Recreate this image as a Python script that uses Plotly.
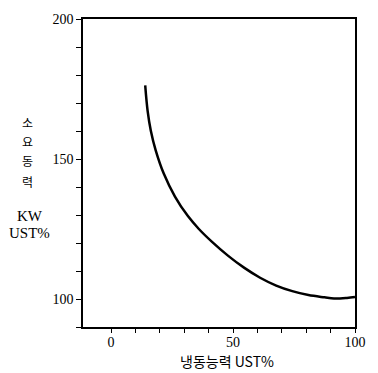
import plotly.graph_objects as go

# Curve (refrigeration capacity UST% vs power KW UST%)
capacity = [14.0, 15.0, 16.3, 18.3, 21.6, 26.2, 31.5, 36.0, 41.4, 47.9, 54.5, 61.1, 67.7, 74.3, 80.9, 87.5, 91.4, 96.7, 100.0]
power = [176.3, 167.1, 160.1, 153.1, 144.8, 136.6, 129.6, 125.0, 120.4, 115.5, 111.2, 107.6, 104.8, 102.8, 101.4, 100.6, 100.2, 100.4, 100.7]

x_ticks = [0, 10, 20, 30, 40, 50, 60, 70, 80, 90, 100]
x_labels = ["0", "", "", "", "", "50", "", "", "", "", "100"]
y_ticks = [90, 100, 110, 120, 130, 140, 150, 160, 170, 180, 190, 200]
y_labels = ["", "100", "", "", "", "", "150", "", "", "", "", "200"]

y_title_chars = ["소", "요", "동", "력"]
y_title_units = ["KW", "UST%"]
x_title = "냉동능력 UST%"

serif = "Liberation Serif"
cjk = "Noto Sans CJK KR"

fig = go.Figure()
fig.add_trace(go.Scatter(x=capacity, y=power, mode="lines",
                         line=dict(color="black", width=2.5, shape="spline", smoothing=1.0),
                         showlegend=False, hoverinfo="skip"))

fig.update_layout(
    width=378, height=373,
    margin=dict(l=83, r=13, t=15, b=46),
    paper_bgcolor="white", plot_bgcolor="white",
    font=dict(family=serif, color="black", size=14),
    xaxis=dict(range=[-11.5, 100], tickvals=x_ticks, ticktext=x_labels,
               showgrid=False, zeroline=False, showline=True, linecolor="black", linewidth=1.5,
               mirror=True, ticks="outside", ticklen=4, tickcolor="black", tickwidth=1.2,
               ticklabelstandoff=-3,
               tickfont=dict(family=serif, size=14)),
    yaxis=dict(range=[90, 200], tickvals=y_ticks, ticktext=y_labels,
               showgrid=False, zeroline=False, showline=True, linecolor="black", linewidth=1.5,
               mirror=True, ticks="outside", ticklen=5, tickcolor="black", tickwidth=1.2,
               tickfont=dict(family=serif, size=14)),
)

# plot area: top 15px, bottom 327px (height 312), left 83px (width 282)
def py(p):
    return (327 - p) / 312

def px(p):
    return (p - 83) / 282

for ch, ypix in zip(y_title_chars, [120, 139, 158, 180]):
    fig.add_annotation(text=ch, xref="paper", yref="paper", x=px(25), y=py(ypix),
                       xanchor="center", yanchor="middle", showarrow=False,
                       font=dict(family=cjk, size=12, color="black"))
for txt, ypix in zip(y_title_units, [215, 232]):
    fig.add_annotation(text=txt, xref="paper", yref="paper", x=px(28), y=py(ypix),
                       xanchor="center", yanchor="middle", showarrow=False,
                       font=dict(family=serif, size=15, color="black"))
fig.add_annotation(text=x_title, xref="paper", yref="paper", x=px(232), y=py(361),
                   xanchor="center", yanchor="middle", showarrow=False,
                   font=dict(family=cjk, size=14, color="black"))

fig.write_html("out.html")
